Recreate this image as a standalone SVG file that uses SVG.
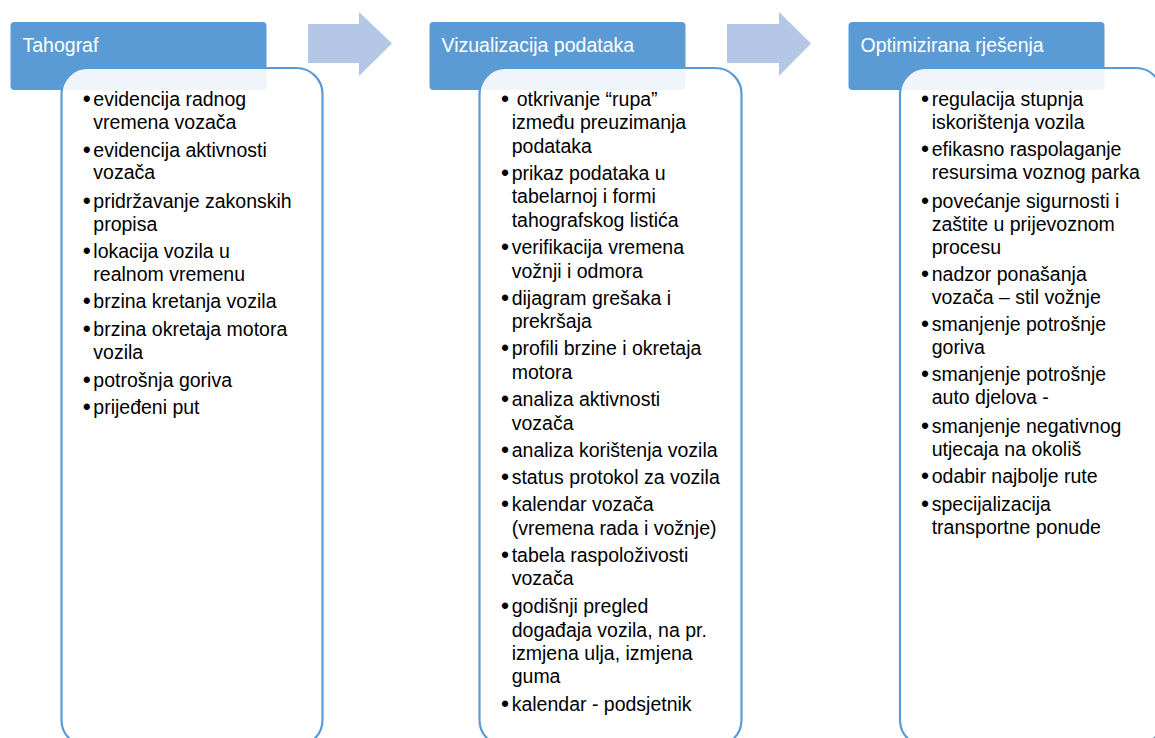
<svg xmlns="http://www.w3.org/2000/svg" width="1155" height="738" viewBox="0 0 1155 738">
<style>
.hdr{fill:#5B9BD5;}
.body{fill:#FFFFFF;fill-opacity:0.9;stroke:#5B9BD5;stroke-width:2.2;}
.arrow{fill:#B4C7E7;}
.ht{font-family:"Liberation Sans",Arial,sans-serif;font-size:19.5px;fill:#FFFFFF;}
.t{font-family:"Liberation Sans",Arial,sans-serif;font-size:19.5px;fill:#000000;}
.b{font-family:"Liberation Sans",Arial,sans-serif;font-size:23px;fill:#000000;text-anchor:middle;}
</style>
<rect width="1155" height="738" fill="#FFFFFF"/>
<g id="connectors">
<polygon class="arrow" points="308,24 359,24 359,12 392,43.5 359,76 359,63 308,63"/>
<polygon class="arrow" points="727,24 779,24 779,12 811,43.5 779,76 779,63 727,63"/>
</g>
<g id="node-tahograf">
<rect class="hdr" x="10.5" y="22" width="256" height="68" rx="4"/>
<text class="ht" x="22.5" y="51.5">Tahograf</text>
<rect class="body" x="61.5" y="68" width="261" height="678" rx="26"/>
<g>
<text class="b" x="86.7" y="107">•</text><text class="t" x="93.3" y="106">evidencija radnog</text>
<text class="t" x="93.3" y="129.3">vremena vozača</text>
<text class="b" x="86.7" y="157.7">•</text><text class="t" x="93.3" y="156.7">evidencija aktivnosti</text>
<text class="t" x="93.3" y="179.3">vozača</text>
<text class="b" x="86.7" y="209.3">•</text><text class="t" x="93.3" y="208.3">pridržavanje zakonskih</text>
<text class="t" x="93.3" y="231">propisa</text>
<text class="b" x="86.7" y="258.7">•</text><text class="t" x="93.3" y="257.7">lokacija vozila u</text>
<text class="t" x="93.3" y="281">realnom vremenu</text>
<text class="b" x="86.7" y="309.3">•</text><text class="t" x="93.3" y="308.3">brzina kretanja vozila</text>
<text class="b" x="86.7" y="337">•</text><text class="t" x="93.3" y="336">brzina okretaja motora</text>
<text class="t" x="93.3" y="359.3">vozila</text>
<text class="b" x="86.7" y="387.7">•</text><text class="t" x="93.3" y="386.7">potrošnja goriva</text>
<text class="b" x="86.7" y="415.3">•</text><text class="t" x="93.3" y="414.3">prijeđeni put</text>
</g>
</g>
<g id="node-vizualizacija">
<rect class="hdr" x="429.5" y="22" width="256" height="68" rx="4"/>
<text class="ht" x="441.5" y="51.5">Vizualizacija podataka</text>
<rect class="body" x="479.5" y="68" width="262" height="678" rx="26"/>
<g>
<text class="b" x="505" y="107">•</text><text class="t" x="516.7" y="106">otkrivanje “rupa”</text>
<text class="t" x="511.7" y="129.3">između preuzimanja</text>
<text class="t" x="511.7" y="152.6">podataka</text>
<text class="b" x="505" y="181">•</text><text class="t" x="511.7" y="180">prikaz podataka u</text>
<text class="t" x="511.7" y="203.3">tabelarnoj i formi</text>
<text class="t" x="511.7" y="226.7">tahografskog listića</text>
<text class="b" x="505" y="255.2">•</text><text class="t" x="511.7" y="254.2">verifikacija vremena</text>
<text class="t" x="511.7" y="277.5">vožnji i odmora</text>
<text class="b" x="505" y="305.5">•</text><text class="t" x="511.7" y="304.5">dijagram grešaka i</text>
<text class="t" x="511.7" y="327.8">prekršaja</text>
<text class="b" x="505" y="356">•</text><text class="t" x="511.7" y="355">profili brzine i okretaja</text>
<text class="t" x="511.7" y="379">motora</text>
<text class="b" x="505" y="407.3">•</text><text class="t" x="511.7" y="406.3">analiza aktivnosti</text>
<text class="t" x="511.7" y="429.6">vozača</text>
<text class="b" x="505" y="458">•</text><text class="t" x="511.7" y="457">analiza korištenja vozila</text>
<text class="b" x="505" y="485.4">•</text><text class="t" x="511.7" y="484.4">status protokol za vozila</text>
<text class="b" x="505" y="512.3">•</text><text class="t" x="511.7" y="511.3">kalendar vozača</text>
<text class="t" x="511.7" y="535">(vremena rada i vožnje)</text>
<text class="b" x="505" y="563">•</text><text class="t" x="511.7" y="562">tabela raspoloživosti</text>
<text class="t" x="511.7" y="585.3">vozača</text>
<text class="b" x="505" y="613.7">•</text><text class="t" x="511.7" y="612.7">godišnji pregled</text>
<text class="t" x="511.7" y="636.5">događaja vozila, na pr.</text>
<text class="t" x="511.7" y="659.8">izmjena ulja, izmjena</text>
<text class="t" x="511.7" y="682.7">guma</text>
<text class="b" x="505" y="712">•</text><text class="t" x="511.7" y="711">kalendar - podsjetnik</text>
</g>
</g>
<g id="node-optimizirana">
<rect class="hdr" x="848.5" y="22" width="256" height="68" rx="4"/>
<text class="ht" x="860.5" y="51.5">Optimizirana rješenja</text>
<rect class="body" x="900" y="68" width="262" height="678" rx="26"/>
<g>
<text class="b" x="925" y="107">•</text><text class="t" x="931.7" y="106">regulacija stupnja</text>
<text class="t" x="931.7" y="129.3">iskorištenja vozila</text>
<text class="b" x="925" y="157">•</text><text class="t" x="931.7" y="156">efikasno raspolaganje</text>
<text class="t" x="931.7" y="179.3">resursima voznog parka</text>
<text class="b" x="925" y="208.7">•</text><text class="t" x="931.7" y="207.7">povećanje sigurnosti i</text>
<text class="t" x="931.7" y="231">zaštite u prijevoznom</text>
<text class="t" x="931.7" y="254.3">procesu</text>
<text class="b" x="925" y="282">•</text><text class="t" x="931.7" y="281">nadzor ponašanja</text>
<text class="t" x="931.7" y="304.3">vozača – stil vožnje</text>
<text class="b" x="925" y="332">•</text><text class="t" x="931.7" y="331">smanjenje potrošnje</text>
<text class="t" x="931.7" y="354.3">goriva</text>
<text class="b" x="925" y="382">•</text><text class="t" x="931.7" y="381">smanjenje potrošnje</text>
<text class="t" x="931.7" y="404.3">auto djelova -</text>
<text class="b" x="925" y="433.7">•</text><text class="t" x="931.7" y="432.7">smanjenje negativnog</text>
<text class="t" x="931.7" y="456">utjecaja na okoliš</text>
<text class="b" x="925" y="483.7">•</text><text class="t" x="931.7" y="482.7">odabir najbolje rute</text>
<text class="b" x="925" y="512">•</text><text class="t" x="931.7" y="511">specijalizacija</text>
<text class="t" x="931.7" y="534.3">transportne ponude</text>
</g>
</g>
</svg>
